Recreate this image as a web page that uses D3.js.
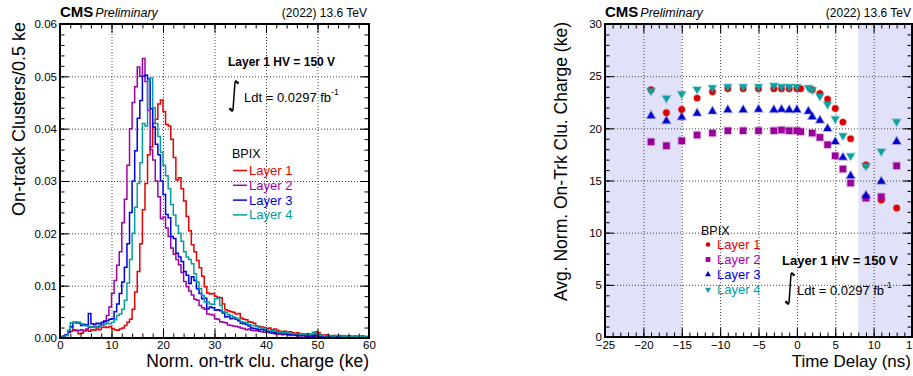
<!DOCTYPE html>
<html>
<head>
<meta charset="utf-8">
<script src="https://cdn.jsdelivr.net/npm/d3@7"></script>
<style>
  html, body { margin: 0; padding: 0; background: #fff; }
  svg { display: block; font-family: "Liberation Sans", Arial, Helvetica, sans-serif; }
</style>
</head>
<body>
<svg id="chart" width="913" height="376"></svg>
<script>
'use strict';

// ---- left pad: normalized on-track cluster charge, 0.5 ke bins from 0 to 60 ke ----
const layerNames = ['Layer 1', 'Layer 2', 'Layer 3', 'Layer 4'];
const chargeBins = d3.range(0, 60, 0.5);   // bin left edges (ke)

const layer1Hist = [
  .0002, .0004, .0006, .0011, .0013, .0015, .0014, .0008, .0009, .0014,
  .0015, .0013, .0016, .0015, .0017, .0016, .0020, .0021, .0020, .0022,
  .0018, .0016, .0015, .0017, .0019, .0024, .0030, .0036, .0055, .0088,
  .0127, .0180, .0245, .0295, .0350, .0365, .0410, .0418, .0447, .0455,
  .0433, .0408, .0405, .0380, .0345, .0302, .0306, .0285, .0262, .0232,
  .0205, .0178, .0165, .0148, .0134, .0118, .0098, .0086, .0084, .0085,
  .0080, .0078, .0077, .0065, .0054, .0052, .0050, .0049, .0046, .0047,
  .0038, .0036, .0035, .0031, .0030, .0028, .0023, .0022, .0021, .0020,
  .0018, .0019, .0016, .0017, .0015, .0013, .0012, .0013, .0011, .0012,
  .0010, .0009, .0010, .0008, .0008, .0007, .0008, .0006, .0007, .0012,
  .0010, .0006, .0005, .0006, .0005, .0004, .0005, .0004, .0005, .0004,
  .0004, .0003, .0004, .0003, .0004, .0003, .0003, .0004, .0003, .0003
];
const layer2Hist = [
  .0001, .0002, .0005, .0012, .0021, .0016, .0015, .0015, .0016, .0014,
  .0017, .0020, .0021, .0022, .0020, .0023, .0026, .0033, .0043, .0059,
  .0085, .0110, .0139, .0165, .0220, .0265, .0330, .0400, .0450, .0480,
  .0518, .0500, .0534, .0490, .0435, .0360, .0340, .0300, .0270, .0228,
  .0231, .0210, .0194, .0172, .0160, .0150, .0140, .0125, .0108, .0098,
  .0090, .0082, .0074, .0072, .0062, .0058, .0055, .0046, .0045, .0044,
  .0037, .0036, .0031, .0030, .0029, .0025, .0024, .0023, .0022, .0021,
  .0019, .0018, .0016, .0017, .0015, .0014, .0014, .0013, .0012, .0011,
  .0012, .0010, .0009, .0008, .0007, .0008, .0006, .0007, .0006, .0005,
  .0006, .0005, .0004, .0004, .0005, .0003, .0004, .0003, .0003, .0004,
  .0003, .0003, .0002, .0003, .0002, .0003, .0002, .0002, .0003, .0002,
  .0002, .0002, .0003, .0002, .0002, .0002, .0001, .0002, .0002, .0001
];
const layer3Hist = [
  .0001, .0003, .0006, .0012, .0022, .0030, .0030, .0028, .0024, .0026,
  .0025, .0047, .0027, .0026, .0028, .0027, .0030, .0031, .0033, .0036,
  .0037, .0050, .0065, .0085, .0107, .0135, .0180, .0240, .0300, .0358,
  .0420, .0454, .0500, .0502, .0495, .0438, .0403, .0370, .0350, .0300,
  .0274, .0236, .0230, .0194, .0190, .0162, .0155, .0146, .0127, .0120,
  .0104, .0117, .0110, .0094, .0085, .0075, .0076, .0056, .0059, .0058,
  .0053, .0054, .0052, .0048, .0040, .0041, .0037, .0038, .0036, .0033,
  .0028, .0027, .0026, .0023, .0019, .0018, .0017, .0016, .0017, .0015,
  .0012, .0011, .0012, .0010, .0011, .0009, .0008, .0009, .0007, .0007,
  .0006, .0006, .0005, .0006, .0005, .0005, .0004, .0005, .0004, .0006,
  .0005, .0004, .0004, .0003, .0004, .0003, .0004, .0003, .0003, .0004,
  .0003, .0003, .0003, .0002, .0003, .0003, .0002, .0003, .0002, .0002
];
const layer4Hist = [
  .0001, .0002, .0005, .0015, .0029, .0029, .0028, .0030, .0027, .0024,
  .0023, .0022, .0021, .0020, .0022, .0021, .0024, .0026, .0028, .0027,
  .0030, .0035, .0043, .0046, .0055, .0072, .0105, .0150, .0200, .0250,
  .0295, .0335, .0410, .0405, .0493, .0497, .0440, .0410, .0385, .0355,
  .0330, .0310, .0285, .0255, .0235, .0215, .0200, .0185, .0165, .0155,
  .0150, .0142, .0123, .0107, .0094, .0081, .0069, .0069, .0065, .0064,
  .0075, .0076, .0062, .0050, .0049, .0045, .0043, .0040, .0038, .0036,
  .0031, .0030, .0029, .0026, .0024, .0024, .0022, .0020, .0019, .0018,
  .0016, .0015, .0014, .0013, .0012, .0011, .0010, .0010, .0009, .0009,
  .0008, .0008, .0007, .0008, .0007, .0007, .0006, .0007, .0011, .0008,
  .0006, .0005, .0005, .0004, .0005, .0004, .0004, .0005, .0004, .0004,
  .0003, .0004, .0003, .0003, .0004, .0003, .0003, .0003, .0003, .0002
];

// ---- right pad: average charge vs time delay (null = no point drawn) ----
const delayTimes  = [-19, -17, -15, -13, -11, -9, -7, -5, -3, -2, -1, 0, 0.5, 1.5, 2, 3, 4, 5, 6, 7, 9, 11, 13];
const delayLayer1 = [23.7, 21.5, 21.8, 22.9, 23.5, 23.8, 23.8, 23.8, 23.8, 23.8, 23.8, 23.8, 23.8, null, 23.7, 23.35, 22.8, 21.9, 20.6, 19.0, 16.5, 13.13, 12.36];
const delayLayer2 = [18.71, 18.33, 18.81, 19.36, 19.55, 19.77, 19.77, 19.77, 19.77, 19.84, 19.77, 19.77, 19.68, null, 19.55, 19.13, 18.43, 17.37, 16.1, 14.76, 13.32, 13.44, 16.41];
const delayLayer3 = [21.2, 20.7, 21.06, 21.44, 21.63, 21.76, 21.76, 21.8, 21.76, 21.8, 21.76, 21.76, null, 21.63, 21.1, 20.75, 19.96, 18.71, 17.2, 15.45, 13.55, 14.9, 18.72];
const delayLayer4 = [23.6, 22.9, 23.3, 23.75, 23.9, 24.0, 24.0, 24.0, 24.1, 24.0, 24.0, 24.0, null, 23.9, 23.7, 23.1, 22.3, 20.92, 19.3, 17.37, 16.4, 17.8, 20.65];
const shadedDelays = [[-25, -15], [8, 15]];

const lineColors   = ['#e60000', '#a000a8', '#0000e6', '#00a0a0'];
const markerColors = ['#dc0000', '#990099', '#0000cc', '#10a0a0'];

let svg = d3.select('#chart');
svg.append('rect').attr('width', 913).attr('height', 376).attr('fill', '#fff');

// ROOT style pad: dotted grid, inward ticks on all four sides, thick frame
let drawGrid = function(g, x, y, gridX, gridY) {
    let [x0, x1] = x.range(), [y0, y1] = y.range();
    let gx = g.append('g').attr('transform', 'translate(0,' + y0 + ')')
        .call(d3.axisBottom(x).tickValues(gridX).tickSize(-(y0 - y1)).tickFormat(''));
    let gy = g.append('g').attr('transform', 'translate(' + x0 + ',0)')
        .call(d3.axisLeft(y).tickValues(gridY).tickSize(-(x1 - x0)).tickFormat(''));
    [gx, gy].forEach(function(a) {
        a.select('.domain').remove();
        a.selectAll('line').attr('stroke', '#444').attr('stroke-width', 1)
            .attr('stroke-dasharray', '1,2');
    });
};

let drawAxes = function(g, x, y, o) {
    let [x0, x1] = x.range(), [y0, y1] = y.range();
    let parts = [
        [d3.axisBottom(x).tickValues(o.majorX).tickSize(-9).tickPadding(o.padX).tickFormat(o.fmtX), 'translate(0,' + y0 + ')'],
        [d3.axisBottom(x).tickValues(o.minorX).tickSize(-4.5).tickFormat(''), 'translate(0,' + y0 + ')'],
        [d3.axisTop(x).tickValues(o.majorX).tickSize(-9).tickFormat(''), 'translate(0,' + y1 + ')'],
        [d3.axisTop(x).tickValues(o.minorX).tickSize(-4.5).tickFormat(''), 'translate(0,' + y1 + ')'],
        [d3.axisLeft(y).tickValues(o.majorY).tickSize(-9).tickPadding(3).tickFormat(o.fmtY), 'translate(' + x0 + ',0)'],
        [d3.axisLeft(y).tickValues(o.minorY).tickSize(-4.5).tickFormat(''), 'translate(' + x0 + ',0)'],
        [d3.axisRight(y).tickValues(o.majorY).tickSize(-9).tickFormat(''), 'translate(' + x1 + ',0)'],
        [d3.axisRight(y).tickValues(o.minorY).tickSize(-4.5).tickFormat(''), 'translate(' + x1 + ',0)']
    ];
    parts.forEach(function(p) {
        let a = g.append('g').attr('transform', p[1]).call(p[0]);
        a.select('.domain').remove();
        a.selectAll('line').attr('stroke', '#000').attr('stroke-width', 1);
        a.selectAll('text').attr('fill', '#000').attr('font-size', 11.5)
            .attr('font-family', null);
    });
    g.append('rect')
        .attr('x', x0).attr('y', y1).attr('width', x1 - x0).attr('height', y0 - y1)
        .attr('fill', 'none').attr('stroke', '#000').attr('stroke-width', 2);
};

let cmsLabel = function(g, xl, xr) {
    let t = g.append('text').attr('x', xl).attr('y', 17);
    t.append('tspan').attr('font-weight', 'bold').attr('font-size', 15).text('CMS');
    t.append('tspan').attr('font-style', 'italic').attr('font-size', 12.5).attr('dx', 2).text('Preliminary');
    g.append('text').attr('x', xr).attr('y', 17).attr('text-anchor', 'end')
        .attr('font-size', 12).text('(2022) 13.6 TeV');
};

// integral sign like ROOT's #int, then "Ldt = ... fb^-1"
let lumiLabel = function(g, sx, yTop, yBot, tx, ty, size) {
    g.append('path')
        .attr('d', 'M' + (sx + 3.5) + ',' + (yTop + 2.5) +
            ' C' + (sx + 2) + ',' + (yTop - 0.5) + ' ' + (sx + 0.8) + ',' + (yTop + 1) + ' ' + (sx + 0.8) + ',' + (yTop + 5) +
            ' L' + (sx - 0.8) + ',' + (yBot - 5) +
            ' C' + (sx - 0.8) + ',' + (yBot - 1) + ' ' + (sx - 2) + ',' + (yBot + 0.5) + ' ' + (sx - 3.5) + ',' + (yBot - 2.5))
        .attr('fill', 'none').attr('stroke', '#000').attr('stroke-width', 1.5);
    g.append('circle').attr('cx', sx + 3.6).attr('cy', yTop + 2.8).attr('r', 1.4);
    g.append('circle').attr('cx', sx - 3.6).attr('cy', yBot - 2.8).attr('r', 1.4);
    let t = g.append('text').attr('x', tx).attr('y', ty).attr('font-size', size);
    t.append('tspan').text('Ldt = 0.0297 fb');
    t.append('tspan').attr('font-size', 8.5).attr('dy', -7).text('-1');
};

// ================= left pad =================
let xL = d3.scaleLinear().domain([0, 60]).range([60, 369]);
let yL = d3.scaleLinear().domain([0, 0.06]).range([338, 24]);
let gL = svg.append('g');

drawGrid(gL, xL, yL, [10, 20, 30, 40, 50], [0.01, 0.02, 0.03, 0.04, 0.05]);

gL.append('clipPath').attr('id', 'clipL').append('rect')
    .attr('x', 60).attr('y', 24).attr('width', 309).attr('height', 314);

let histLine = d3.line().curve(d3.curveStepAfter)
    .x(function(d) { return xL(d[0]); })
    .y(function(d) { return yL(d[1]); });

[layer1Hist, layer2Hist, layer3Hist, layer4Hist].forEach(function(h, k) {
    let pts = [[0, 0]];
    chargeBins.forEach(function(b, i) { pts.push([b, h[i]]); });
    pts.push([60, h[h.length - 1]]);
    pts.push([60, 0]);
    gL.append('path')
        .attr('clip-path', 'url(#clipL)')
        .attr('d', histLine(pts))
        .attr('fill', 'none')
        .attr('stroke', lineColors[k])
        .attr('stroke-width', 1.5);
});

drawAxes(gL, xL, yL, {
    majorX: [0, 10, 20, 30, 40, 50, 60], minorX: d3.range(2, 60, 2),
    majorY: [0, 0.01, 0.02, 0.03, 0.04, 0.05, 0.06], minorY: d3.range(0.002, 0.06, 0.002),
    fmtX: d3.format('d'), fmtY: d3.format('.2f'), padX: 3
});

gL.append('text').attr('transform', 'translate(25,22) rotate(-90)')
    .attr('text-anchor', 'end').attr('font-size', 18).text('On-track Clusters/0.5 ke');
gL.append('text').attr('x', 369).attr('y', 367).attr('text-anchor', 'end')
    .attr('font-size', 17.5).text('Norm. on-trk clu. charge (ke)');
cmsLabel(gL, 60, 367);

gL.append('text').attr('x', 228).attr('y', 66).attr('font-weight', 'bold')
    .attr('font-size', 12).text('Layer 1 HV = 150 V');
lumiLabel(gL, 234, 80, 112, 244, 101.5, 13);

gL.append('text').attr('x', 232).attr('y', 158).attr('font-size', 12.5).text('BPIX');
layerNames.forEach(function(name, k) {
    let by = 175 + k * 14.8;
    gL.append('line').attr('x1', 233).attr('x2', 247).attr('y1', by - 4.5).attr('y2', by - 4.5)
        .attr('stroke', lineColors[k]).attr('stroke-width', 1.5);
    gL.append('text').attr('x', 249).attr('y', by).attr('font-size', 13)
        .attr('fill', lineColors[k]).text(name);
});

// ================= right pad =================
let xR = d3.scaleLinear().domain([-25, 15]).range([605, 912]);
let yR = d3.scaleLinear().domain([0, 30]).range([337, 24]);
let gR = svg.append('g');

gR.selectAll('rect.shade').data(shadedDelays).enter().append('rect')
    .attr('class', 'shade')
    .attr('x', function(d) { return xR(d[0]); })
    .attr('width', function(d) { return xR(d[1]) - xR(d[0]); })
    .attr('y', yR(30)).attr('height', yR(0) - yR(30))
    .attr('fill', '#e1e1f9');

drawGrid(gR, xR, yR, [-20, -15, -10, -5, 0, 5, 10], [5, 10, 15, 20, 25]);

let symbolTypes = [d3.symbolCircle, d3.symbolSquare, d3.symbolTriangle, d3.symbolTriangle];
let symbolSizes = [32, 42, 28, 28];

[delayLayer1, delayLayer2, delayLayer3, delayLayer4].forEach(function(vals, k) {
    let pts = delayTimes.map(function(t, i) { return [t, vals[i]]; })
        .filter(function(d) { return d[1] !== null; });
    gR.append('g').selectAll('path').data(pts).enter().append('path')
        .attr('d', d3.symbol().type(symbolTypes[k]).size(symbolSizes[k]))
        .attr('transform', function(d) {
            return 'translate(' + xR(d[0]) + ',' + yR(d[1]) + ')' + (k === 3 ? ' rotate(180)' : '');
        })
        .attr('fill', markerColors[k])
        .attr('stroke', markerColors[k])
        .attr('stroke-opacity', 0.3)
        .attr('stroke-width', 1.8);
});

drawAxes(gR, xR, yR, {
    majorX: [-25, -20, -15, -10, -5, 0, 5, 10, 15], minorX: d3.range(-24, 15, 1),
    majorY: [0, 5, 10, 15, 20, 25, 30], minorY: d3.range(1, 30, 1),
    fmtX: d3.format('d'), fmtY: d3.format('d'), padX: 4
});

gR.append('text').attr('transform', 'translate(567,22) rotate(-90)')
    .attr('text-anchor', 'end').attr('font-size', 17.5).text('Avg. Norm. On-Trk Clu. Charge (ke)');
gR.append('text').attr('x', 911).attr('y', 367).attr('text-anchor', 'end')
    .attr('font-size', 17).text('Time Delay (ns)');
cmsLabel(gR, 605, 911);

gR.append('text').attr('x', 701).attr('y', 235).attr('font-size', 12.5).text('BPIX');
layerNames.forEach(function(name, k) {
    let by = 249 + k * 15;
    gR.append('path')
        .attr('d', d3.symbol().type(symbolTypes[k]).size(symbolSizes[k] * 0.55))
        .attr('transform', 'translate(708,' + (by - 4.5) + ')' + (k === 3 ? ' rotate(180)' : ''))
        .attr('fill', markerColors[k]);
    gR.append('text').attr('x', 717).attr('y', by).attr('font-size', 13)
        .attr('fill', lineColors[k]).text(name);
});

gR.append('text').attr('x', 782).attr('y', 265).attr('font-weight', 'bold')
    .attr('font-size', 13).text('Layer 1 HV = 150 V');
lumiLabel(gR, 790, 272, 305, 797, 295, 13);
</script>
</body>
</html>
